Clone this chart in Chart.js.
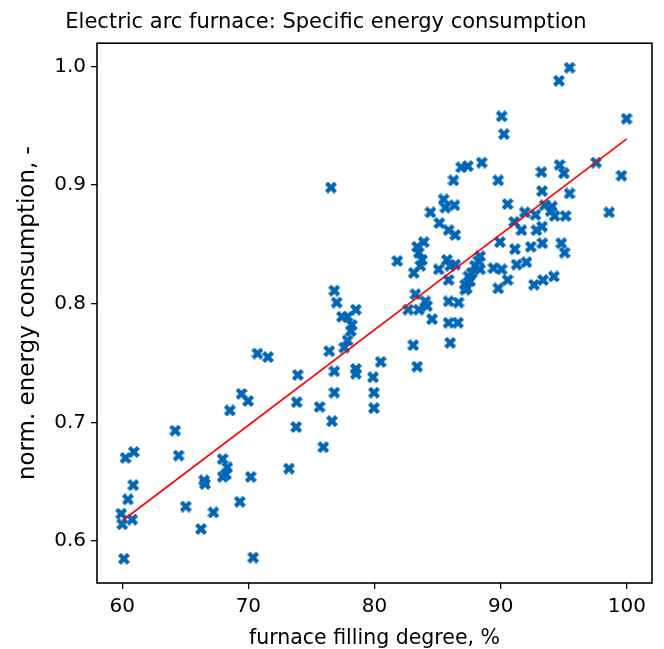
<!DOCTYPE html>
<html>
<head>
<meta charset="utf-8">
<script src="https://cdn.jsdelivr.net/npm/chart.js@4.4.1/dist/chart.umd.min.js"></script>
<style>
  html, body { margin: 0; padding: 0; background: #fff; }
  #wrap { width: 664px; height: 649px; }
</style>
</head>
<body>
<div id="wrap"><canvas id="scatterChart" width="664" height="649"></canvas></div>
<script>
// furnace filling degree, %
const fillingDegree = [
  76.55, 88.50, 87.40, 86.87, 86.26, 85.48, 85.61, 86.34, 84.43, 85.14,
  95.46, 94.62, 90.08, 90.26, 99.98, 89.81, 97.57, 93.23, 94.67, 95.01,
  93.28, 95.46, 99.58, 90.55, 91.91, 92.76, 93.49, 94.07, 93.96, 94.28,
  95.15, 98.61, 91.07, 91.65, 92.84, 93.28, 89.94, 91.13, 92.39, 93.31,
  94.81, 95.07, 88.37, 88.24, 87.97, 89.42, 90.08, 91.26, 92.05, 90.55,
  89.81, 92.65, 93.36, 94.22, 87.45, 87.19, 87.32, 87.71, 88.37, 87.58,
  87.19, 85.87, 86.40, 83.90, 83.38, 83.51, 83.77, 83.64, 83.11, 81.80,
  85.08, 85.74, 86.00, 86.40, 85.87, 83.25, 84.03, 84.17, 83.51, 82.67,
  84.56, 85.87, 86.66, 85.87, 86.61, 86.00, 83.07, 83.38, 76.81, 77.00,
  77.42, 77.86, 78.52, 78.20, 78.12, 77.86, 77.60, 76.41, 76.81, 78.52,
  78.52, 80.49, 79.88, 79.96, 79.96, 73.92, 76.81, 73.83, 75.64, 76.63,
  73.79, 75.94, 73.22, 68.53, 69.98, 64.20, 64.47, 60.26, 60.92, 60.87,
  60.45, 59.92, 60.00, 60.79, 60.13, 67.96, 68.33, 68.22, 67.96, 66.49,
  66.56, 65.04, 67.23, 66.25, 69.32, 70.19, 70.38, 70.72, 71.56, 69.46
];

// norm. energy consumption, -
const energyConsumption = [
  0.898, 0.919, 0.916, 0.915, 0.904, 0.888, 0.881, 0.883, 0.877, 0.868,
  0.999, 0.988, 0.958, 0.943, 0.956, 0.904, 0.919, 0.911, 0.917, 0.910,
  0.895, 0.893, 0.908, 0.884, 0.877, 0.875, 0.883, 0.882, 0.878, 0.874,
  0.874, 0.877, 0.869, 0.862, 0.862, 0.865, 0.852, 0.846, 0.848, 0.851,
  0.851, 0.843, 0.840, 0.836, 0.832, 0.830, 0.829, 0.833, 0.835, 0.820,
  0.813, 0.816, 0.820, 0.823, 0.823, 0.816, 0.813, 0.826, 0.829, 0.819,
  0.812, 0.862, 0.858, 0.852, 0.848, 0.843, 0.837, 0.832, 0.826, 0.836,
  0.829, 0.837, 0.832, 0.833, 0.820, 0.808, 0.802, 0.798, 0.795, 0.795,
  0.787, 0.802, 0.801, 0.784, 0.784, 0.767, 0.765, 0.747, 0.811, 0.801,
  0.789, 0.789, 0.795, 0.782, 0.777, 0.769, 0.763, 0.760, 0.743, 0.745,
  0.741, 0.751, 0.738, 0.725, 0.712, 0.740, 0.725, 0.717, 0.713, 0.701,
  0.696, 0.679, 0.661, 0.710, 0.718, 0.693, 0.672, 0.670, 0.675, 0.647,
  0.635, 0.623, 0.614, 0.618, 0.585, 0.669, 0.662, 0.656, 0.654, 0.651,
  0.648, 0.629, 0.624, 0.610, 0.633, 0.654, 0.586, 0.758, 0.755, 0.724
];

// fitted line end points
const fitX = [60, 100];
const fitY = [0.617, 0.939];

const xTicks = [60, 70, 80, 90, 100];
const yTicks = [0.6, 0.7, 0.8, 0.9, 1.0];

const blue = '#0066b5';

// filled "X" marker like matplotlib's
function makeXMarker(size, color) {
  const c = document.createElement('canvas');
  c.width = size; c.height = size;
  const g = c.getContext('2d');
  const h = size / 2;
  const L = h * Math.SQRT2 * 0.75;
  const w = L / 3;
  g.translate(h, h);
  g.rotate(Math.PI / 4);
  g.fillStyle = color;
  g.fillRect(-L, -w, 2 * L, 2 * w);
  g.fillRect(-w, -L, 2 * w, 2 * L);
  return c;
}
const marker = makeXMarker(12, blue);

const points = fillingDegree.map((x, i) => ({ x: x, y: energyConsumption[i] }));
const fitLine = fitX.map((x, i) => ({ x: x, y: fitY[i] }));

const frame = {
  id: 'frame',
  afterDatasetsDraw(chart) {
    const a = chart.chartArea;
    const ctx = chart.ctx;
    ctx.save();
    ctx.strokeStyle = '#000';
    ctx.lineWidth = 1.6;
    ctx.strokeRect(a.left, a.top, a.right - a.left, a.bottom - a.top);
    ctx.restore();
  }
};

const font = 'DejaVu Sans';

new Chart(document.getElementById('scatterChart').getContext('2d'), {
  type: 'scatter',
  data: {
    datasets: [
      {
        type: 'line',
        data: fitLine,
        borderColor: '#ff0000',
        borderWidth: 1.6,
        pointRadius: 0,
        fill: false
      },
      {
        data: points,
        pointStyle: marker,
        pointRadius: 6
      }
    ]
  },
  plugins: [frame],
  options: {
    responsive: false,
    animation: false,
    layout: { padding: { left: 0, right: 12, top: 0, bottom: 0 } },
    plugins: {
      legend: { display: false },
      tooltip: { enabled: false },
      title: {
        display: true,
        text: 'Electric arc furnace: Specific energy consumption',
        color: '#000',
        font: { family: font, size: 21, weight: 'normal', lineHeight: 1.2 },
        padding: { top: 10, bottom: 8 }
      }
    },
    scales: {
      x: {
        type: 'linear',
        min: 58.0,
        max: 102.0,
        afterFit: s => { s.height = 66; },
        afterBuildTicks: s => { s.ticks = xTicks.map(v => ({ value: v })); },
        ticks: {
          color: '#000',
          padding: 6,
          font: { family: font, size: 20 },
          callback: v => String(v)
        },
        grid: { display: true, drawOnChartArea: false, drawTicks: true, tickLength: 6, color: '#000', lineWidth: 1.3 },
        border: { display: false },
        title: {
          display: true,
          text: 'furnace filling degree, %',
          color: '#000',
          font: { family: font, size: 20.5, lineHeight: 1 },
          padding: { top: 0, bottom: 0 }
        }
      },
      y: {
        type: 'linear',
        min: 0.5645,
        max: 1.0197,
        afterFit: s => { s.width = 97; },
        afterBuildTicks: s => { s.ticks = yTicks.map(v => ({ value: v })); },
        ticks: {
          color: '#000',
          padding: 5,
          font: { family: font, size: 20 },
          callback: v => v.toFixed(1)
        },
        grid: { display: true, drawOnChartArea: false, drawTicks: true, tickLength: 6, color: '#000', lineWidth: 1.3 },
        border: { display: false },
        title: {
          display: true,
          text: 'norm. energy consumption, -',
          color: '#000',
          font: { family: font, size: 23, lineHeight: 1.2 },
          padding: { top: 14, bottom: 0 }
        }
      }
    }
  }
});
</script>
</body>
</html>
